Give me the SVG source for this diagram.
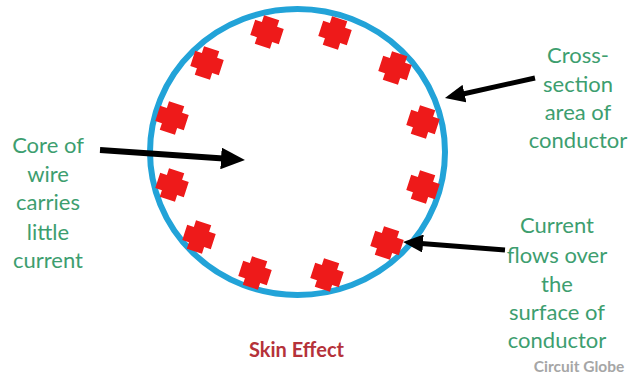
<svg xmlns="http://www.w3.org/2000/svg" width="631" height="376" viewBox="0 0 631 376">
<style>
.lbl{font-family:Lato,"Liberation Sans",sans-serif;font-size:22px;fill:#3d9e6f;text-anchor:middle}
.x{fill:#ee1a1a}
.arr{stroke:#000;fill:none}
</style>
<defs>
<path id="cross" d="M-8,-15 H8 V-8 H15 V8 H8 V15 H-8 V8 H-15 V-8 H-8 Z"/>
<marker id="ah" markerUnits="strokeWidth" markerWidth="4" markerHeight="3.6" refX="1" refY="1.8" orient="auto">
<path d="M0,0 L4,1.8 L0,3.6 Z" fill="#000"/>
</marker>
</defs>
<rect width="631" height="376" fill="#fff"/>
<g id="conductor">
<ellipse cx="297.5" cy="152" rx="147.5" ry="143" fill="none" stroke="#22a3d8" stroke-width="6"/>
</g>
<g id="charges">
<use href="#cross" class="x" transform="translate(267,32) rotate(18)"/>
<use href="#cross" class="x" transform="translate(335,33) rotate(18)"/>
<use href="#cross" class="x" transform="translate(207,63) rotate(18)"/>
<use href="#cross" class="x" transform="translate(395,68) rotate(18)"/>
<use href="#cross" class="x" transform="translate(172,118) rotate(18)"/>
<use href="#cross" class="x" transform="translate(423,122) rotate(18)"/>
<use href="#cross" class="x" transform="translate(172,185) rotate(18)"/>
<use href="#cross" class="x" transform="translate(423,187) rotate(18)"/>
<use href="#cross" class="x" transform="translate(199,237) rotate(18)"/>
<use href="#cross" class="x" transform="translate(387,243) rotate(18)"/>
<use href="#cross" class="x" transform="translate(255,273) rotate(18)"/>
<use href="#cross" class="x" transform="translate(327,275) rotate(18)"/>
</g>
<g id="connectors">
<line class="arr" x1="100" y1="150" x2="227" y2="158.8" stroke-width="6" marker-end="url(#ah)"/>
<line class="arr" x1="535" y1="78" x2="459.6" y2="94.7" stroke-width="5" marker-end="url(#ah)"/>
<line class="arr" x1="505" y1="250" x2="418" y2="243.2" stroke-width="5" marker-end="url(#ah)"/>
</g>
<g id="core-label">
<text class="lbl" x="48" y="153">Core of</text>
<text class="lbl" x="48" y="182">wire</text>
<text class="lbl" x="48" y="210">carries</text>
<text class="lbl" x="48" y="240">little</text>
<text class="lbl" x="48" y="268">current</text>
</g>
<g id="cross-section-label">
<text class="lbl" x="578" y="63">Cross-</text>
<text class="lbl" x="578" y="92">section</text>
<text class="lbl" x="578" y="120">area of</text>
<text class="lbl" x="578" y="148">conductor</text>
</g>
<g id="surface-label">
<text class="lbl" x="557" y="233">Current</text>
<text class="lbl" x="557" y="263">flows over</text>
<text class="lbl" x="557" y="292">the</text>
<text class="lbl" x="557" y="320">surface of</text>
<text class="lbl" x="557" y="348">conductor</text>
</g>
<g id="title">
<text x="296.5" y="357" font-family="Lato,'Liberation Sans',sans-serif" font-size="20" font-weight="bold" fill="#b5323a" text-anchor="middle">Skin Effect</text>
</g>
<g id="watermark">
<text x="579" y="372" font-family="Lato,'Liberation Sans',sans-serif" font-size="15.5" font-weight="bold" fill="#a6a6a6" text-anchor="middle">Circuit Globe</text>
</g>
</svg>
